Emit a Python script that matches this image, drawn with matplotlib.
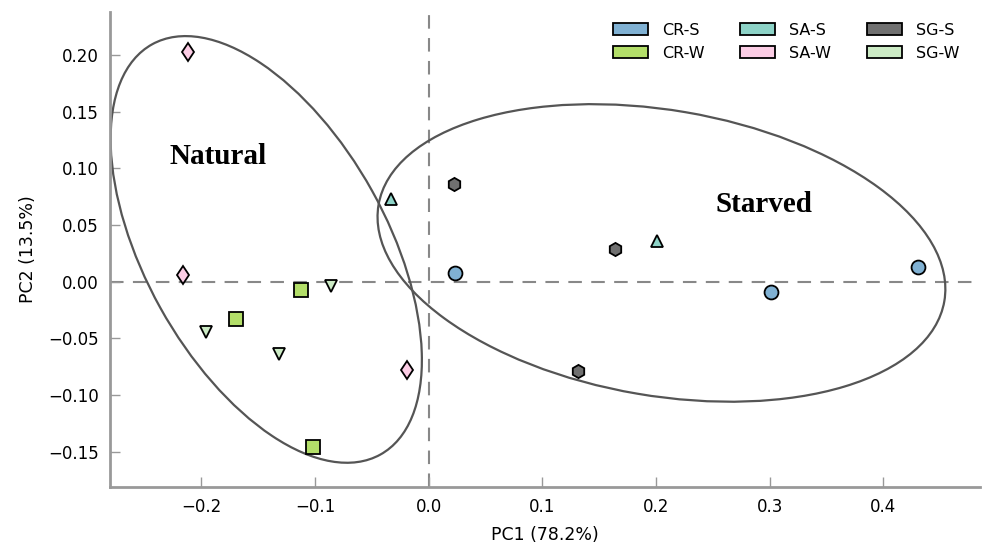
import matplotlib
matplotlib.use("Agg")
import matplotlib.pyplot as plt
from matplotlib.patches import Ellipse, Patch

# PCA scores
groups = ["CR-S", "CR-W", "SA-S", "SA-W", "SG-S", "SG-W"]
colors = {"CR-S": "#80b1d3", "CR-W": "#b3de69", "SA-S": "#8dd3c7",
          "SA-W": "#fccde5", "SG-S": "#707070", "SG-W": "#ccebc5"}
markers = {"CR-S": "o", "CR-W": "s", "SA-S": "^",
           "SA-W": "d", "SG-S": "h", "SG-W": "v"}

cr_s_x = [0.023, 0.301, 0.430]
cr_s_y = [0.008, -0.009, 0.013]
sa_s_x = [-0.033, 0.201]
sa_s_y = [0.073, 0.036]
sg_s_x = [0.022, 0.164, 0.131]
sg_s_y = [0.086, 0.029, -0.079]
cr_w_x = [-0.112, -0.170, -0.102]
cr_w_y = [-0.007, -0.033, -0.146]
sa_w_x = [-0.212, -0.216, -0.019]
sa_w_y = [0.203, 0.006, -0.078]
sg_w_x = [-0.086, -0.196, -0.132]
sg_w_y = [-0.004, -0.044, -0.064]

scores = {"CR-S": (cr_s_x, cr_s_y), "CR-W": (cr_w_x, cr_w_y),
          "SA-S": (sa_s_x, sa_s_y), "SA-W": (sa_w_x, sa_w_y),
          "SG-S": (sg_s_x, sg_s_y), "SG-W": (sg_w_x, sg_w_y)}

# cluster ellipses: (center x, center y, width, height, angle)
natural_ell = (-0.143, 0.0285, 0.414, 0.213, -61)
starved_ell = (0.2047, 0.0254, 0.505, 0.252, -9.7)

x_ticks = [-0.2, -0.1, 0.0, 0.1, 0.2, 0.3, 0.4]
y_ticks = [-0.15, -0.10, -0.05, 0.00, 0.05, 0.10, 0.15, 0.20]

fig = plt.figure(figsize=(9.82, 5.47), dpi=100)
ax = fig.add_axes([0.112, 0.110, 0.886, 0.868])

ax.axhline(0, color="#888888", lw=1.5, ls=(0, (6.5, 4.5)), zorder=1)
ax.axvline(0, color="#888888", lw=1.5, ls=(0, (6.5, 4.5)), zorder=1)

for cx, cy, w, h, ang in (natural_ell, starved_ell):
    ax.add_patch(Ellipse((cx, cy), w, h, angle=ang, fill=False,
                         edgecolor="#555555", lw=1.6, zorder=2))

sizes = {"o": 10, "s": 10, "^": 9, "v": 9, "d": 9.5, "h": 9.5}
for g in groups:
    xs, ys = scores[g]
    m = markers[g]
    ax.plot(xs, ys, ls="none", marker=m, ms=sizes[m], mfc=colors[g],
            mec="black", mew=1.3, zorder=3)

ax.text(-0.185, 0.1105, "Natural", family=["Liberation Serif"],
        weight="bold", fontsize=21, ha="center", va="center")
ax.text(0.2953, 0.068, "Starved", family=["Liberation Serif"],
        weight="bold", fontsize=21, ha="center", va="center")

ax.set_xlim(-0.2805, 0.485)
ax.set_ylim(-0.181, 0.238)
ax.set_xticks(x_ticks)
ax.set_yticks(y_ticks)
ax.set_xticklabels(["%.1f" % t if t >= 0 else "\u2212%.1f" % -t for t in x_ticks])
ax.set_yticklabels(["%.2f" % t if t >= 0 else "\u2212%.2f" % -t for t in y_ticks])
ax.tick_params(direction="in", length=7, width=1, color="#999999",
               labelsize=12, pad=8, top=False, right=False)

for side in ["top", "right"]:
    ax.spines[side].set_visible(False)
for side in ["left", "bottom"]:
    ax.spines[side].set_color("#999999")
    ax.spines[side].set_linewidth(2)

ax.set_xlabel("PC1 (78.2%)", fontsize=12.5, labelpad=7)
ax.set_ylabel("PC2 (13.5%)", fontsize=12.5, labelpad=8)

handles = [Patch(facecolor=colors[g], edgecolor="black", lw=1.3, label=g)
           for g in groups]
ax.legend(handles=handles, ncol=3, loc="upper right", frameon=False,
          fontsize=11.5, handlelength=2.2, handletextpad=0.9,
          columnspacing=2.2, labelspacing=0.5,
          bbox_to_anchor=(0.993, 1.008))

fig.savefig("out.png", dpi=100)
